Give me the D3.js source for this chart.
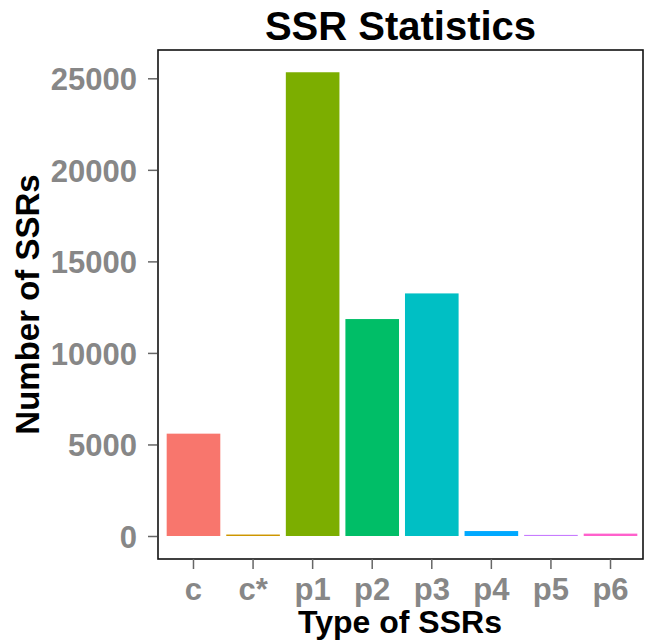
<!DOCTYPE html>
<html>
<head>
<meta charset="utf-8">
<script src="https://cdn.jsdelivr.net/npm/d3@7"></script>
<style>
  html, body { margin: 0; padding: 0; background: #fff; }
  svg { display: block; font-family: "Liberation Sans", Arial, sans-serif; }
</style>
</head>
<body>
<svg id="chart" width="645" height="640"></svg>
<script>
const categories = ["c", "c*", "p1", "p2", "p3", "p4", "p5", "p6"];
const counts = [5590, 80, 25330, 11850, 13250, 270, 60, 130];
const barColors = ["#F8766D", "#CD9600", "#7CAE00", "#00BE67", "#00BFC4", "#00A9FF", "#C77CFF", "#FF61CC"];
const yTicks = [0, 5000, 10000, 15000, 20000, 25000];
const titleText = "SSR Statistics";
const xTitle = "Type of SSRs";
const yTitle = "Number of SSRs";

const panel = { left: 158, top: 50, right: 643, bottom: 559 };
const svg = d3.select("#chart");

const x = d3.scaleBand().domain(categories).range([163.7, 640.3]).paddingInner(0.1).paddingOuter(0.05);
const y = d3.scaleLinear().domain([0, 25000]).range([536, 78.3]);

const data = categories.map((c, i) => ({ cat: c, value: counts[i], color: barColors[i] }));

// bars
svg.append("g").selectAll("rect").data(data).join("rect")
  .attr("x", d => x(d.cat))
  .attr("width", x.bandwidth())
  .attr("y", d => y(d.value))
  .attr("height", d => y(0) - y(d.value))
  .attr("fill", d => d.color);

// panel border
svg.append("rect")
  .attr("x", panel.left).attr("y", panel.top)
  .attr("width", panel.right - panel.left).attr("height", panel.bottom - panel.top)
  .attr("fill", "none").attr("stroke", "#111").attr("stroke-width", 1.6);

// y axis
const yAxis = d3.axisLeft(y).tickValues(yTicks).tickSize(9).tickPadding(11).tickFormat(d3.format("d"));
const yg = svg.append("g").attr("transform", `translate(${panel.left - 1},0)`).call(yAxis);
yg.select(".domain").remove();
yg.selectAll(".tick line").attr("stroke", "#666").attr("stroke-width", 1.5);
yg.selectAll(".tick text").attr("fill", "#878787").attr("font-size", 31).attr("font-weight", "bold")
  .attr("font-family", "Liberation Sans, Arial, sans-serif").attr("dy", "0.36em");

// x axis
const xAxis = d3.axisBottom(x).tickSize(10).tickPadding(9);
const xg = svg.append("g").attr("transform", `translate(0,${panel.bottom})`).call(xAxis);
xg.select(".domain").remove();
xg.selectAll(".tick line").attr("stroke", "#666").attr("stroke-width", 1.5);
xg.selectAll(".tick text").attr("fill", "#878787").attr("font-size", 31).attr("font-weight", "bold")
  .attr("font-family", "Liberation Sans, Arial, sans-serif").attr("dy", "0.71em");

// title
svg.append("text").attr("x", (panel.left + panel.right) / 2).attr("y", 40)
  .attr("text-anchor", "middle").attr("font-size", 40).attr("font-weight", "bold").attr("fill", "#000")
  .text(titleText);

// x title
svg.append("text").attr("x", 400).attr("y", 633)
  .attr("text-anchor", "middle").attr("font-size", 32).attr("font-weight", "bold").attr("fill", "#000")
  .text(xTitle);

// y title
svg.append("text").attr("transform", `translate(39,${(panel.top + panel.bottom) / 2}) rotate(-90)`)
  .attr("text-anchor", "middle").attr("font-size", 33).attr("font-weight", "bold").attr("fill", "#000")
  .text(yTitle);
</script>
</body>
</html>
